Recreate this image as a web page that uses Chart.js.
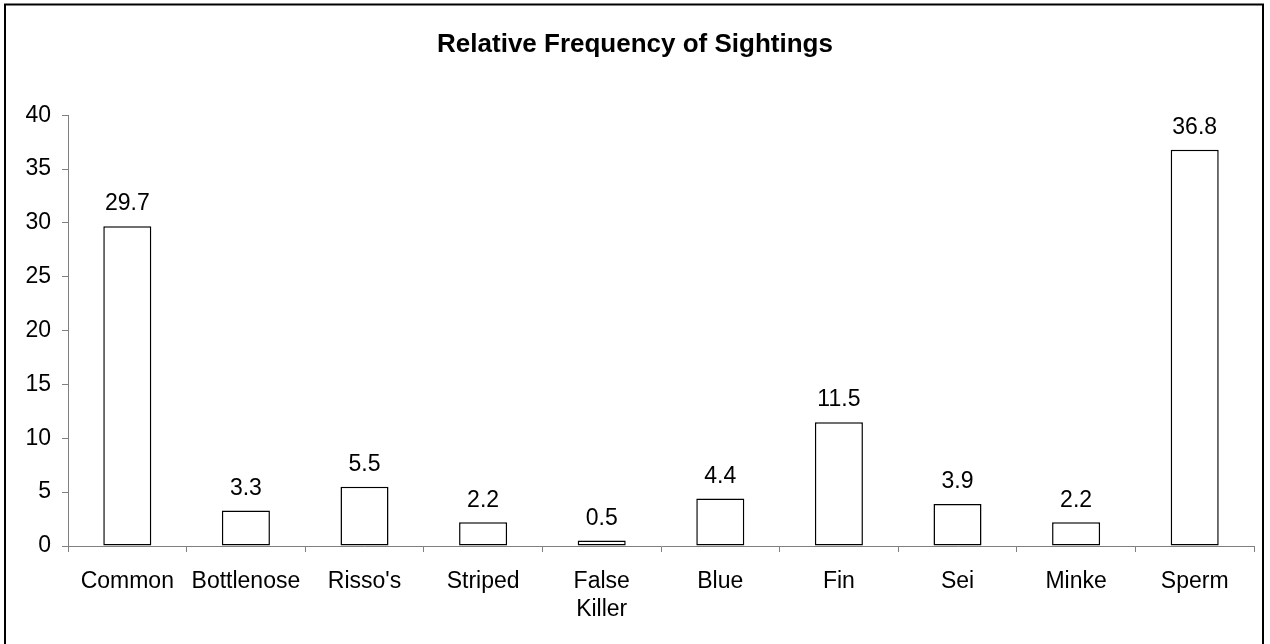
<!DOCTYPE html>
<html>
<head>
<meta charset="utf-8">
<script src="https://cdn.jsdelivr.net/npm/chart.js@4.4.0/dist/chart.umd.min.js"></script>
<style>
  html, body { margin: 0; padding: 0; background: #fff; }
  #wrap { position: relative; width: 1270px; height: 644px; }
</style>
</head>
<body>
<div id="wrap"><canvas id="myChart" width="1270" height="644"></canvas></div>
<script>
const species = ["Common", "Bottlenose", "Risso's", "Striped", ["False", "Killer"], "Blue", "Fin", "Sei", "Minke", "Sperm"]
const frequency = [29.7, 3.3, 5.5, 2.2, 0.5, 4.4, 11.5, 3.9, 2.2, 36.8]
const yTicks = [0, 5, 10, 15, 20, 25, 30, 35, 40]

const ctx = document.getElementById('myChart')
const fontName = "'Liberation Sans', Arial, sans-serif"
Chart.defaults.font.family = fontName
Chart.defaults.color = "#000"

// outer frame around the whole chart
const framePlugin = {
  id: "frame",
  beforeDraw(chart) {
    const c = chart.ctx
    c.save()
    c.fillStyle = "#fff"
    c.fillRect(0, 0, chart.width, chart.height)
    c.strokeStyle = "#000"
    c.lineWidth = 2
    c.strokeRect(5, 4.5, 1258, 660)
    c.restore()
  }
}

// value labels over each bar
const valueLabels = {
  id: "valueLabels",
  afterDatasetsDraw(chart) {
    const c = chart.ctx
    const meta = chart.getDatasetMeta(0)
    c.save()
    c.font = "23px " + fontName
    c.fillStyle = "#000"
    c.textAlign = "center"
    c.textBaseline = "middle"
    meta.data.forEach((bar, i) => {
      c.fillText(frequency[i].toFixed(1), bar.x, bar.y - 22)
    })
    c.restore()
  }
}

const myChart = new Chart(ctx, {
  type: 'bar',
  data: {
    labels: species,
    datasets: [{
      data: frequency,
      backgroundColor: "#fff",
      borderColor: "#000",
      borderWidth: 1.5,
      borderSkipped: false,
      barPercentage: 0.405,
      categoryPercentage: 1
    }]
  },
  options: {
    responsive: false,
    animation: false,
    devicePixelRatio: 1,
    layout: { padding: { left: 16, right: 16, top: 0, bottom: 0 } },
    plugins: {
      legend: { display: false },
      tooltip: { enabled: false },
      title: {
        display: true,
        text: "Relative Frequency of Sightings",
        font: { size: 26, weight: "bold", lineHeight: 1.2 },
        color: "#000",
        padding: { top: 29, bottom: 55 }
      }
    },
    scales: {
      y: {
        min: 0,
        max: 40,
        afterBuildTicks: s => { s.ticks = yTicks.map(v => ({ value: v })) },
        afterFit: s => { s.width = 52 },
        border: { color: "#808080", width: 1 },
        grid: { drawOnChartArea: false, tickLength: 6, color: "#808080" },
        ticks: { font: { size: 23 }, padding: 11, color: "#000" }
      },
      x: {
        afterFit: s => { s.height = 98 },
        border: { color: "#808080", width: 1 },
        grid: { drawOnChartArea: false, tickLength: 6, color: "#808080", offset: true },
        ticks: { font: { size: 23, lineHeight: 1.22 }, padding: 16, color: "#000", maxRotation: 0, autoSkip: false }
      }
    }
  },
  plugins: [framePlugin, valueLabels]
})
</script>
</body>
</html>
